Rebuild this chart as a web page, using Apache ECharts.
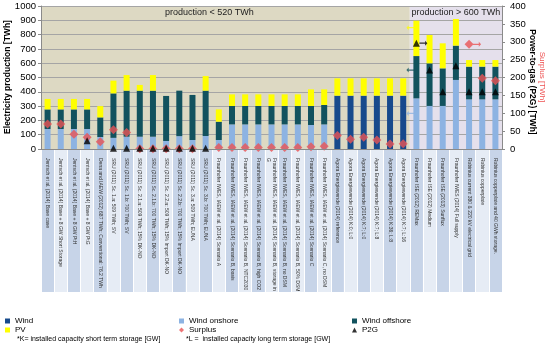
<!DOCTYPE html>
<html><head><meta charset="utf-8">
<script src="https://cdn.jsdelivr.net/npm/echarts@6.0.0/dist/echarts.min.js"></script>
<style>html,body{margin:0;padding:0;background:#fff}#c{width:550px;height:347px}</style>
</head><body><div id="c"></div>
<script>
const categories = [
 'Jentsch et al. (2014) Base case',
 'Jentsch et al. (2014) Base + 8 GW Short Storage',
 'Jentsch et al. (2014) Base + 8 GW PtH',
 'Jentsch et al. (2014) Base + 8 GW PtG',
 'Dena and IAEW (2012) 687 TWh; Conventional: 76.2 TWh',
 'SRU (2011) Sc. 1.a: 509 TWh; SV',
 'SRU (2011) Sc. 1.b: 700 TWh; SV',
 'SRU (2011) Sc. 2.1.a: 509 TWh; 15% DK-NO',
 'SRU (2011) Sc. 2.1.b: 700 TWh; 15% DK-NO',
 'SRU (2011) Sc. 2.2.a: 509 TWh; 15% Import DK-NO',
 'SRU (2011) Sc. 2.2.b: 700 TWh; 15% Import DK-NO',
 'SRU (2011) Sc. 3.a: 509 TWh; EUNA',
 'SRU (2011) Sc. 3.b: 700 TWh; EUNA',
 'Fraunhofer IWES, IAEW et al. (2014) Scenario A',
 'Fraunhofer IWES, IAEW et al. (2014) Scenario B, basis',
 'Fraunhofer IWES, IAEW et al. (2014) Scenario B, NTC2030',
 'Fraunhofer IWES, IAEW et al. (2014) Scenario B, high CO2',
 'Fraunhofer IWES, IAEW et al. (2014) Scenario B, storage in\nG',
 'Fraunhofer IWES, IAEW et al. (2014) Scenario B, no DSM',
 'Fraunhofer IWES, IAEW et al. (2014) Scenario B, 50% DSM',
 'Fraunhofer IWES, IAEW et al. (2014) Scenario C',
 'Fraunhofer IWES, IAEW et al. (2014) Scenario C, no DSM',
 'Agora Energiewende (2014) reference',
 'Agora Energiewende (2014) K:0; L:0',
 'Agora Energiewende (2014) K:7; L:0',
 'Agora Energiewende (2014) K:7; L:8',
 'Agora Energiewende (2014) K:36; L:8',
 'Agora Energiewende (2014) K:7; L:16',
 'Fraunhofer ISE (2012) REMax',
 'Fraunhofer ISE (2012) Medium',
 'Fraunhofer ISE (2013) Sunflux',
 'Fraunhofer IWES (2014) Full supply',
 'Robinius current 380 & 220 kV electrical grid',
 'Robinius copperplate',
 'Robinius copperplate and 40 GWh storage.'
];
const N = null;
const wind         = [N,N,N,N,N, N,N,N,N,N,N,N,N, N,N,N,N,N,N,N,N,N, 373,373,373,373,373,373, N,N,N,N,N,N,N];
const windOnshore  = [140,140,140,140,84, 78,86,86,86,56,90,63,91, 63,172,172,172,172,172,172,168,172, N,N,N,N,N,N, 354,301,301,483,347,347,347];
const windOffshore = [137,137,137,137,137, 311,322,322,322,315,318,315,317, 128,129,129,129,129,129,129,133,136, N,N,N,N,N,N, 296,298,263,240,229,229,229];
const pv           = [73,73,73,73,79, 89,109,40,109,N,N,N,102, 86,81,81,81,81,81,81,116,109, 121,121,121,121,121,121, 247,198,175,186,46,46,46];
const surplus      = [70,70,41,33,20, 54,46,1,1,1,1,1,N, 4,4,4,4,4,4,4,6,8, 38,27,33,25,14,15, N,N,N,N,293,198,191];
const p2g          = [N,N,N,23,N, 2,2,2,2,2,2,2,2, N,N,N,N,N,N,N,N,N, N,N,N,N,N,N, 296,221,160,233,160,160,160];

const leftTicks = {min:0, max:1000, interval:100};
const rightTicks = {min:0, max:400, interval:50};

// background regions (category index ranges) and their captions
const regionNames = ['production < 520 TWh', 'production > 600 TWh'];
const regionFrom = [0, 28];
const regionTo = [28, 35];

// annotation arrows (category index, value)
const leftArrowCats = [28, 28, 28];
const leftArrowValues = [848, 552, 249];
const p2gArrowCats = [28];
const p2gArrowValues = [296];
const surplusArrowCats = [32];
const surplusArrowValues = [293];

const FONT = 'Liberation Sans, Arial, sans-serif';
const COL = {wind:'#174a8c', on:'#8db3e2', off:'#12525e', pv:'#ffff00', sur:'#ea5455', p2g:'#000000'};
const REGION_COLORS = ['#ddd9c3', '#e5e0ec'];
const ARROW_L = 'path://M14,4 L4,4 L4,1 L0,5 L4,9 L4,6 L14,6 Z';
const ARROW_R = 'path://M0,4 L10,4 L10,1 L14,5 L10,9 L10,6 L0,6 Z';

const chart = echarts.init(document.getElementById('c'));
const barBase = {type:'bar', stack:'e', barWidth:6, xAxisIndex:0, yAxisIndex:0};
const plain = v => String(v);

const option = {
  animation:false,
  textStyle:{fontFamily:FONT},
  grid:[
    {left:41, right:48, top:6, height:143, outerBoundsMode:'none', containLabel:false},
    {left:41, right:48, top:150, height:142, outerBoundsMode:'none', containLabel:false}
  ],
  xAxis:[
    {type:'category', gridIndex:0, data:categories, z:5,
     axisLine:{show:true, lineStyle:{color:'#8a8a8a', width:1}},
     axisTick:{show:false},
     axisLabel:{interval:0, rotate:-90, fontSize:5, color:'#333', margin:9, fontFamily:FONT, lineHeight:6},
     splitLine:{show:false}},
    {type:'value', gridIndex:0, min:0, max:categories.length, show:false},
    {type:'category', gridIndex:1, data:categories,
     axisLine:{show:false}, axisTick:{show:false}, axisLabel:{show:false},
     splitLine:{show:true, interval:0, lineStyle:{color:'#ffffff', width:1}},
     splitArea:{show:true, interval:0, areaStyle:{color:['#c7d4e8','#e6ecf5']}}}
  ],
  yAxis:[
    {type:'value', gridIndex:0, min:leftTicks.min, max:leftTicks.max, interval:leftTicks.interval,
     axisLine:{show:true, lineStyle:{color:'#8a8a8a'}},
     axisTick:{show:true, length:3, lineStyle:{color:'#8a8a8a'}},
     axisLabel:{fontSize:9.5, color:'#000', margin:5, fontFamily:FONT, formatter:plain},
     splitLine:{show:true, lineStyle:{color:'#a5a5a5', width:1}}},
    {type:'value', gridIndex:0, position:'right', min:rightTicks.min, max:rightTicks.max, interval:rightTicks.interval,
     axisLine:{show:true, lineStyle:{color:'#8a8a8a'}},
     axisTick:{show:true, length:3, lineStyle:{color:'#8a8a8a'}},
     axisLabel:{fontSize:9.5, color:'#000', margin:8, fontFamily:FONT, formatter:plain},
     splitLine:{show:false}},
    {type:'value', gridIndex:1, show:false}
  ],
  legend:[
    {left:5, top:317, orient:'vertical', itemWidth:5, itemHeight:5, itemGap:1, padding:0,
     textStyle:{fontSize:8, color:'#000', lineHeight:8, fontFamily:FONT},
     data:[{name:'Wind', icon:'rect'}, {name:'PV', icon:'rect'}]},
    {left:179, top:317, orient:'vertical', itemWidth:5, itemHeight:5, itemGap:1, padding:0,
     textStyle:{fontSize:8, color:'#000', lineHeight:8, fontFamily:FONT},
     data:[{name:'Wind onshore', icon:'rect'}, {name:'Surplus', icon:'diamond'}]},
    {left:352, top:317, orient:'vertical', itemWidth:5, itemHeight:5, itemGap:1, padding:0,
     textStyle:{fontSize:8, color:'#000', lineHeight:8, fontFamily:FONT},
     data:[{name:'Wind offshore', icon:'rect'}, {name:'P2G', icon:'triangle'}]}
  ],
  graphic:[
    {type:'text', left:17, top:336, style:{text:'*K= installed capacity short term storage [GW]', fontSize:7, fill:'#000', fontFamily:FONT}},
    {type:'text', left:186, top:336, style:{text:'*L =  installed capacity long term storage [GW]', fontSize:7, fill:'#000', fontFamily:FONT}},
    {type:'text', x:8, y:77, rotation:Math.PI/2,
     style:{text:'Electricity production [TWh]', fontSize:8.5, fontWeight:'bold', fill:'#000', align:'center', verticalAlign:'middle', fontFamily:FONT}},
    {type:'text', x:532, y:82, rotation:-Math.PI/2,
     style:{text:'Power-to-gas (P2G) [TWh]', fontSize:8.5, fontWeight:'bold', fill:'#000', align:'center', verticalAlign:'middle', fontFamily:FONT}},
    {type:'text', x:542.5, y:77, rotation:-Math.PI/2,
     style:{text:'Surplus [TWh]', fontSize:8, fill:'#ee5252', align:'center', verticalAlign:'middle', fontFamily:FONT}}
  ],
  series:[
    {type:'scatter', name:'regions', xAxisIndex:1, yAxisIndex:0, data:[], silent:true,
     markArea:{silent:true, z:-1,
       data: regionNames.map((nm,i)=>[
         {name:nm, xAxis:regionFrom[i], itemStyle:{color:REGION_COLORS[i]},
          label:{show:true, position:'insideTop', distance:2, offset:[i===0?-16:0,0], color:'#222', fontSize:9, fontFamily:FONT}},
         {xAxis:regionTo[i]}
       ])}},
    Object.assign({name:'Wind', data:wind, itemStyle:{color:COL.wind}}, barBase),
    Object.assign({name:'Wind onshore', data:windOnshore, itemStyle:{color:COL.on}}, barBase),
    Object.assign({name:'Wind offshore', data:windOffshore, itemStyle:{color:COL.off}}, barBase),
    Object.assign({name:'PV', data:pv, itemStyle:{color:COL.pv}}, barBase),
    {type:'scatter', name:'Surplus', xAxisIndex:0, yAxisIndex:1, data:surplus, symbol:'diamond', symbolSize:9, z:4,
     itemStyle:{color:COL.sur}},
    {type:'scatter', name:'P2G', xAxisIndex:0, yAxisIndex:1, data:p2g, symbol:'triangle', symbolSize:7, z:5,
     itemStyle:{color:COL.p2g}},
    {type:'scatter', name:'arrowsL', xAxisIndex:0, yAxisIndex:0, silent:true, z:4,
     symbol:ARROW_L, symbolSize:[8,5], symbolOffset:[-6,0],
     data: leftArrowCats.map((c,i)=>({value:[c, leftArrowValues[i]], itemStyle:{color:[COL.pv, COL.off, COL.on][i]}}))},
    {type:'scatter', name:'arrowsP2G', xAxisIndex:0, yAxisIndex:1, silent:true, z:4,
     symbol:ARROW_R, symbolSize:[8,5], symbolOffset:[7,0], itemStyle:{color:COL.p2g},
     data: p2gArrowCats.map((c,i)=>[c, p2gArrowValues[i]])},
    {type:'scatter', name:'arrowsSur', xAxisIndex:0, yAxisIndex:1, silent:true, z:4,
     symbol:ARROW_R, symbolSize:[8,5], symbolOffset:[8,0], itemStyle:{color:COL.sur},
     data: surplusArrowCats.map((c,i)=>[c, surplusArrowValues[i]])}
  ]
};
chart.setOption(option);
</script></body></html>
